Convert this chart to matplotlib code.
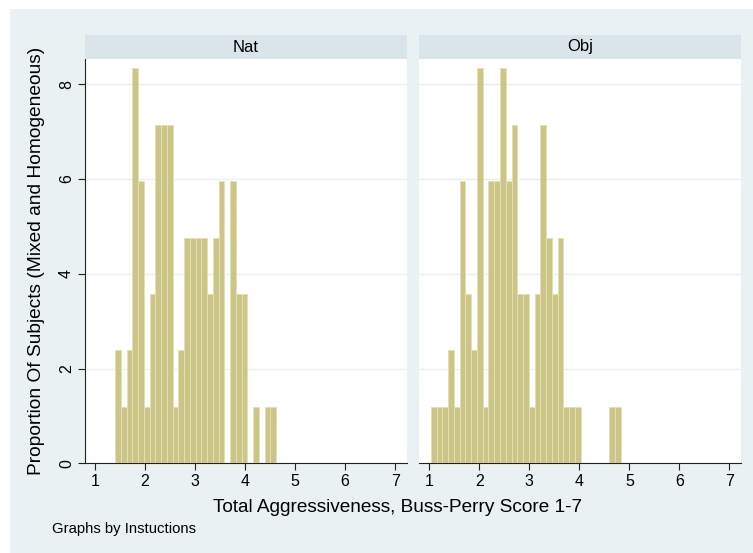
import matplotlib
matplotlib.use("Agg")
import matplotlib.pyplot as plt
from matplotlib.patches import Rectangle
import numpy as np

plt.rcParams['font.family'] = ['Liberation Sans', 'DejaVu Sans']

# ---- data (percent of subjects per bin) ----
panels = ["Nat", "Obj"]
bin_width = 0.115
nat_start = 1.40
nat_values = [2.38, 1.19, 2.38, 8.33, 5.95, 1.19, 3.57, 7.14, 7.14, 7.14,
              1.19, 2.38, 4.76, 4.76, 4.76, 4.76, 3.57, 4.76, 5.95, 0.0,
              5.95, 3.57, 3.57, 0.0, 1.19, 0.0, 1.19, 1.19]
obj_start = 1.033
obj_values = [1.19, 1.19, 1.19, 2.38, 1.19, 5.95, 3.57, 2.38, 8.33, 1.19,
              5.95, 5.95, 8.33, 5.95, 7.14, 3.57, 3.57, 1.19, 3.57, 7.14,
              4.76, 3.57, 4.76, 1.19, 1.19, 1.19, 0.0, 0.0, 0.0, 0.0,
              0.0, 1.19, 1.19]
x_ticks = [1, 2, 3, 4, 5, 6, 7]
y_ticks = [0, 2, 4, 6, 8]
x_label = "Total Aggressiveness, Buss-Perry Score 1-7"
y_label = "Proportion Of Subjects (Mixed and Homogeneous)"
note = "Graphs by Instuctions"

# ---- styling ----
W, H = 753, 553
bg = '#eaf1f3'
strip_c = '#d9e5eb'
bar_c = '#ccc588'
edge_c = '#e4e0b2'
grid_c = '#e8f0f2'
axis_c = '#222222'

fig = plt.figure(figsize=(W / 100, H / 100), dpi=100)
fig.patch.set_facecolor('white')
fig.patches.append(Rectangle((10 / W, 0), 1 - 10 / W, 1 - 9 / H,
                             transform=fig.transFigure, facecolor=bg,
                             edgecolor='none', zorder=-10))

ax_y0 = (H - 463.3) / H
ax_h = (463.3 - 59) / H
strip_y0 = (H - 59) / H
strip_h = 24 / H
lefts = [85, 419.3]
width = 321.7

data = [(nat_start, nat_values), (obj_start, obj_values)]
axes = []
for i, (name, (start, vals)) in enumerate(zip(panels, data)):
    ax = fig.add_axes([lefts[i] / W, ax_y0, width / W, ax_h])
    axes.append(ax)
    ax.set_facecolor('white')
    edges = start + bin_width * np.arange(len(vals))
    ax.bar(edges, vals, width=bin_width, align='edge', color=bar_c,
           edgecolor=edge_c, linewidth=0.7, zorder=3)
    ax.set_xlim(0.8, 7.23)
    ax.set_ylim(0, 8.53)
    for g in y_ticks[1:]:
        ax.axhline(g, color=grid_c, lw=1.0, zorder=1)
    ax.set_xticks(x_ticks)
    ax.set_xticklabels([str(t) for t in x_ticks], fontsize=11.5)
    ax.tick_params(axis='x', length=5, width=0.8, color=axis_c, pad=3)
    for s in ['top', 'right']:
        ax.spines[s].set_visible(False)
    ax.spines['bottom'].set_color(axis_c)
    ax.spines['bottom'].set_linewidth(0.8)
    if i == 0:
        ax.set_yticks(y_ticks)
        ax.set_yticklabels([str(t) for t in y_ticks], fontsize=11.5,
                           rotation=90, va='center')
        ax.tick_params(axis='y', length=5, width=0.8, color=axis_c, pad=3)
        ax.spines['left'].set_color(axis_c)
        ax.spines['left'].set_linewidth(0.8)
    else:
        ax.set_yticks([])
        ax.spines['left'].set_visible(False)
    # header strip
    sax = fig.add_axes([lefts[i] / W, strip_y0, width / W, strip_h])
    sax.set_facecolor(strip_c)
    for s in sax.spines.values():
        s.set_visible(False)
    sax.set_xticks([])
    sax.set_yticks([])
    sax.text(0.5, 0.5, name, ha='center', va='center', fontsize=12,
             transform=sax.transAxes)

fig.text(398 / W, (H - 508) / H, x_label, ha='center', va='center', fontsize=13.7)
fig.text(37 / W, (H - 261) / H, y_label, ha='center', va='center',
         rotation=90, fontsize=13.8)
fig.text(52 / W, (H - 529) / H, note, ha='left', va='center', fontsize=10.7)

fig.savefig('out.png', dpi=100, facecolor=fig.get_facecolor())
